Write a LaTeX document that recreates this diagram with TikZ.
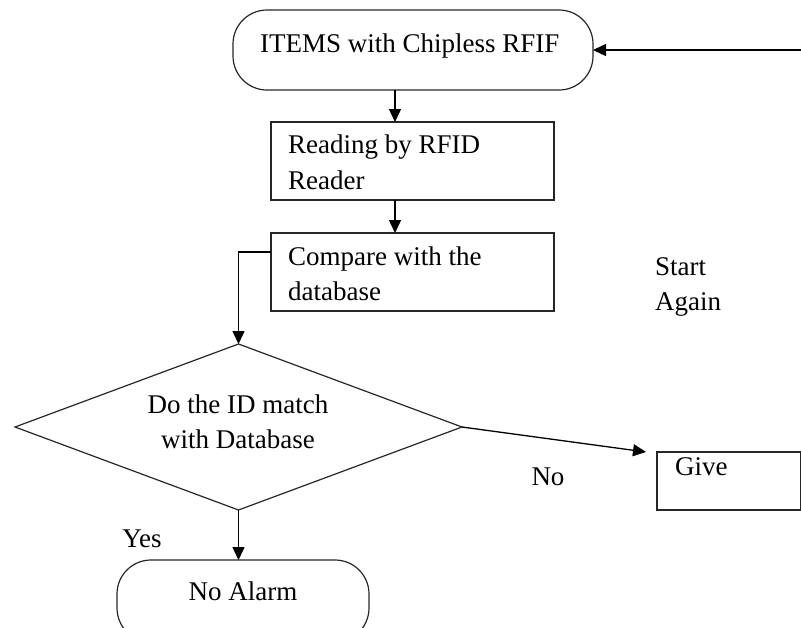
\documentclass[tikz,border=0pt]{standalone}
\usepackage{fontspec}
\setmainfont{Liberation Serif}
\usetikzlibrary{shapes.geometric,arrows.meta}
\begin{document}
\begin{tikzpicture}[x=1pt,y=-1pt,
  box/.style={draw=black!85,line width=1.2pt,inner sep=0pt,outer sep=0pt},
  lbl/.style={inner sep=0pt,font=\fontsize{27}{36}\selectfont,anchor=base west},
  clbl/.style={inner sep=0pt,font=\fontsize{27}{36}\selectfont,anchor=base},
  conn/.style={line width=1.5pt,-{Triangle[length=13pt,width=12pt]}}]
\useasboundingbox (0,0) rectangle (801,627);
\clip (0,0) rectangle (801,627);
% boxes
\node[box,rounded corners=34pt,minimum width=360pt,minimum height=80pt] (start) at (413,50) {};
\node[box,minimum width=283pt,minimum height=78pt] (read) at (412.5,161) {};
\node[box,minimum width=283pt,minimum height=78pt] (cmp) at (412.5,272) {};
\node[box,shape=diamond,minimum width=447pt,minimum height=166pt] (dia) at (238.5,427) {};
\node[box,minimum width=144pt,minimum height=58pt] (give) at (729,481) {};
\node[box,rounded corners=34pt,minimum width=252pt,minimum height=82pt] (alarm) at (243,601) {};
% texts
\node[lbl] (t1) at (260,52) {ITEMS with Chipless RFIF};
\node[lbl] (t2a) at (288,153) {Reading by RFID};
\node[lbl] (t2b) at (288,189) {Reader};
\node[lbl] (t3a) at (288,265) {Compare with the};
\node[lbl] (t3b) at (288,300) {database};
\node[clbl] (t4a) at (238,413) {Do the ID match};
\node[clbl] (t4b) at (238,448) {with Database};
\node[lbl] (t5) at (675,475) {Give};
\node[clbl] (t6) at (243,600) {No Alarm};
\node[lbl] (sa1) at (655,275) {Start};
\node[lbl] (sa2) at (655,310) {Again};
\node[clbl] (no) at (548,485) {No};
\node[clbl] (yes) at (142,547) {Yes};
% connectors
\coordinate (rin) at (801,50);
\draw[conn] (rin) -- (start.east);
\draw[conn] ([xshift=-18pt]start.south) -- ([xshift=-17.5pt]read.north);
\draw[conn] ([xshift=-17.5pt]read.south) -- ([xshift=-17.5pt]cmp.north);
\draw[conn] ([yshift=20pt]cmp.west) -| (dia.north);
\draw[conn,line width=1.3pt] (dia.east) -- ([xshift=-11pt]give.north west);
\draw[conn] (dia.south) -- (dia.south |- alarm.north);
\end{tikzpicture}
\end{document}
